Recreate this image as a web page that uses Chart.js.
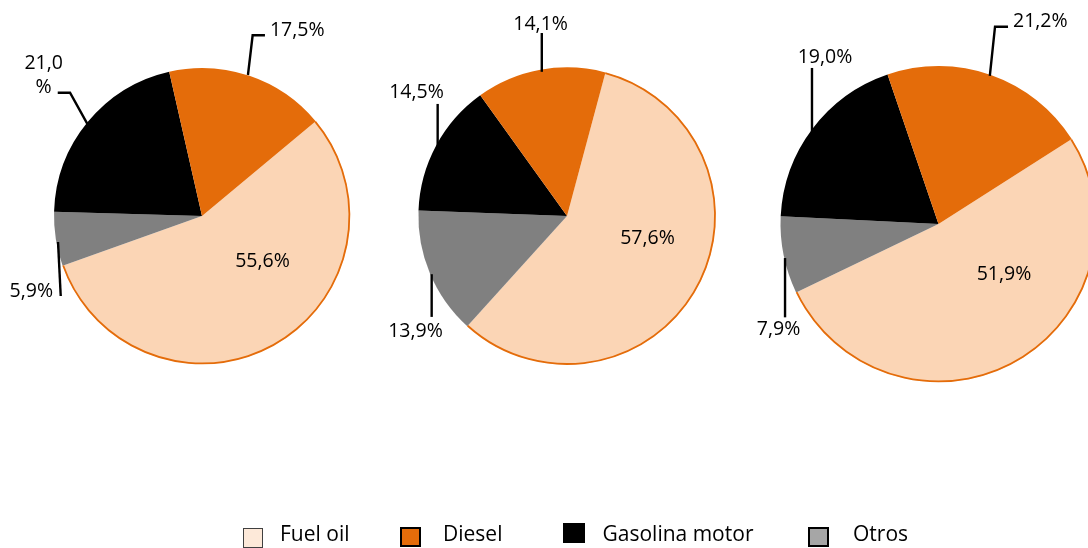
<!DOCTYPE html>
<html><head><meta charset="utf-8">
<script src="https://cdn.jsdelivr.net/npm/chart.js@4.4.1/dist/chart.umd.min.js"></script>
<style>
html,body{margin:0;padding:0;width:1088px;height:548px;overflow:hidden;background:#fff;font-family:"Open Sans",sans-serif;}
canvas{position:absolute;left:0;top:0;}
.lt{position:absolute;font-size:21px;line-height:21px;color:#000;white-space:nowrap;}
.bx{position:absolute;box-sizing:border-box;}
</style></head><body>
<canvas id="c1" width="1200" height="548"></canvas>
<canvas id="c2" width="1200" height="548"></canvas>
<canvas id="c3" width="1200" height="548"></canvas>
<div id="legend"></div>
<script>
// ---- data (slice order as drawn clockwise) ----
const categories = ['Fuel oil', 'Otros', 'Gasolina motor', 'Diesel'];
const values1 = [55.6, 5.9, 21.0, 17.5];
const values2 = [57.6, 13.9, 14.5, 14.1];
const values3 = [51.9, 7.9, 19.0, 21.2];
const legendOrder = ['Fuel oil', 'Diesel', 'Gasolina motor', 'Otros'];

// ---- styles ----
const sliceColors = {'Fuel oil':'#FBD5B5', 'Diesel':'#E46C0A', 'Gasolina motor':'#000000', 'Otros':'#808080'};
const legendStyle = {
  'Fuel oil':      {bg:'#FDE9D9', border:'1.5px solid #404040', box:[243,528,20,20], text:280},
  'Diesel':        {bg:'#E46C0A', border:'2px solid #000', box:[400,527,21,20], text:443},
  'Gasolina motor':{bg:'#000000', border:'2px solid #000', box:[563,523,22,20], text:602.5},
  'Otros':         {bg:'#A6A6A6', border:'2px solid #000', box:[808,527,21,20], text:853}
};
const W = 1200, H = 548;
const layouts = [
  {id:'c1', values:values1, cx:202, cy:216, r:148, rotation:50.2, inner:[60.5,45],
   ext:{1:{pts:[[2.2,2.8],[4.9,56.8]], tx:-2.8, ty:57.8, align:'right'},
        2:{pts:[[0.4,3],[-17.6,-29.3],[-29.9,-29.3]], tx:-44, ty:-53, align:'center', wrap:true, gap:24},
        3:{pts:[[-1.5,-0.8],[3.2,-40.5],[15.5,-40.5]], tx:20.5, ty:-39.8, align:'left'}}},
  {id:'c2', values:values2, cx:567, cy:216, r:148.6, rotation:15.0, inner:[80.5,22.3],
   ext:{1:{pts:[[1.6,0.5],[1.6,43.2]], tx:-14.6, ty:63.2, align:'center'},
        2:{pts:[[1.6,1.5],[1.6,-41.8]], tx:-19.6, ty:-47.8, align:'center'},
        3:{pts:[[1.5,2],[1.5,-36.8]], tx:0.3, ty:-39.8, align:'center'}}},
  {id:'c3', values:values3, cx:938.5, cy:224, r:158, rotation:57.5, inner:[65.5,50],
   ext:{1:{pts:[[1.4,2.7],[1.4,62]], tx:-5.1, ty:79.7, align:'center'},
        2:{pts:[[-0.3,3],[-0.3,-61]], tx:12.7, ty:-65.9, align:'center'},
        3:{pts:[[-1,1],[4.2,-48.2],[17.2,-48.2]], tx:22.2, ty:-48.2, align:'left'}}}
];

const fmt = v => v.toFixed(1).replace('.', ',') + '%';
const FONT = '19.5px "Open Sans"';

function pieLabels(L){
  return {
    id:'pieLabels',
    afterDatasetsDraw(chart){
      const ctx = chart.ctx;
      const meta = chart.getDatasetMeta(0);
      const vals = chart.data.datasets[0].data;
      ctx.save();
      meta.data.forEach((arc, i) => {
        const p = arc.getProps(['x','y','startAngle','endAngle','outerRadius'], true);
        if (i === 0) {
          // orange outline on the outer edge of Fuel oil
          ctx.beginPath();
          ctx.arc(p.x, p.y, p.outerRadius - 0.6, p.startAngle, p.endAngle);
          ctx.strokeStyle = '#E46C0A'; ctx.lineWidth = 1.8; ctx.stroke();
          ctx.font = FONT; ctx.fillStyle = '#000';
          ctx.textAlign = 'center'; ctx.textBaseline = 'middle';
          ctx.fillText(fmt(vals[i]), p.x + L.inner[0], p.y + L.inner[1]);
          return;
        }
        const c = L.ext[i];
        const mid = (p.startAngle + p.endAngle) / 2;
        const ax = p.x + p.outerRadius * Math.cos(mid);
        const ay = p.y + p.outerRadius * Math.sin(mid);
        ctx.beginPath();
        c.pts.forEach((q, k) => { if (k === 0) ctx.moveTo(ax + q[0], ay + q[1]); else ctx.lineTo(ax + q[0], ay + q[1]); });
        ctx.strokeStyle = '#000'; ctx.lineWidth = 2.4; ctx.lineJoin = 'miter'; ctx.stroke();
        ctx.font = FONT; ctx.fillStyle = '#000';
        ctx.textAlign = c.align; ctx.textBaseline = 'alphabetic';
        const t = fmt(vals[i]);
        if (c.wrap) {
          ctx.fillText(t.slice(0, -1), ax + c.tx, ay + c.ty);
          ctx.fillText('%', ax + c.tx, ay + c.ty + c.gap);
        } else {
          ctx.fillText(t, ax + c.tx, ay + c.ty);
        }
      });
      ctx.restore();
    }
  };
}

layouts.forEach(L => {
  const pad = {
    left: Math.max(0, 2*L.cx - W), right: Math.max(0, W - 2*L.cx),
    top: Math.max(0, 2*L.cy - H), bottom: Math.max(0, H - 2*L.cy)
  };
  new Chart(document.getElementById(L.id), {
    type: 'pie',
    data: { labels: categories, datasets: [{
      data: L.values,
      backgroundColor: categories.map(c => sliceColors[c]),
      borderWidth: 0, radius: L.r
    }]},
    options: {
      responsive: false, animation: false, events: [],
      rotation: L.rotation, radius: L.r,
      layout: { padding: pad },
      plugins: { legend: {display:false}, tooltip: {enabled:false} }
    },
    plugins: [pieLabels(L)]
  });
});

// ---- legend ----
const lg = document.getElementById('legend');
legendOrder.forEach(name => {
  const s = legendStyle[name];
  const b = document.createElement('div');
  b.className = 'bx';
  b.style.left = s.box[0] + 'px'; b.style.top = s.box[1] + 'px';
  b.style.width = s.box[2] + 'px'; b.style.height = s.box[3] + 'px';
  b.style.background = s.bg; b.style.border = s.border;
  lg.appendChild(b);
  const t = document.createElement('span');
  t.className = 'lt'; t.textContent = name;
  t.style.left = s.text + 'px'; t.style.top = '523.4px';
  lg.appendChild(t);
});
</script>
</body></html>
